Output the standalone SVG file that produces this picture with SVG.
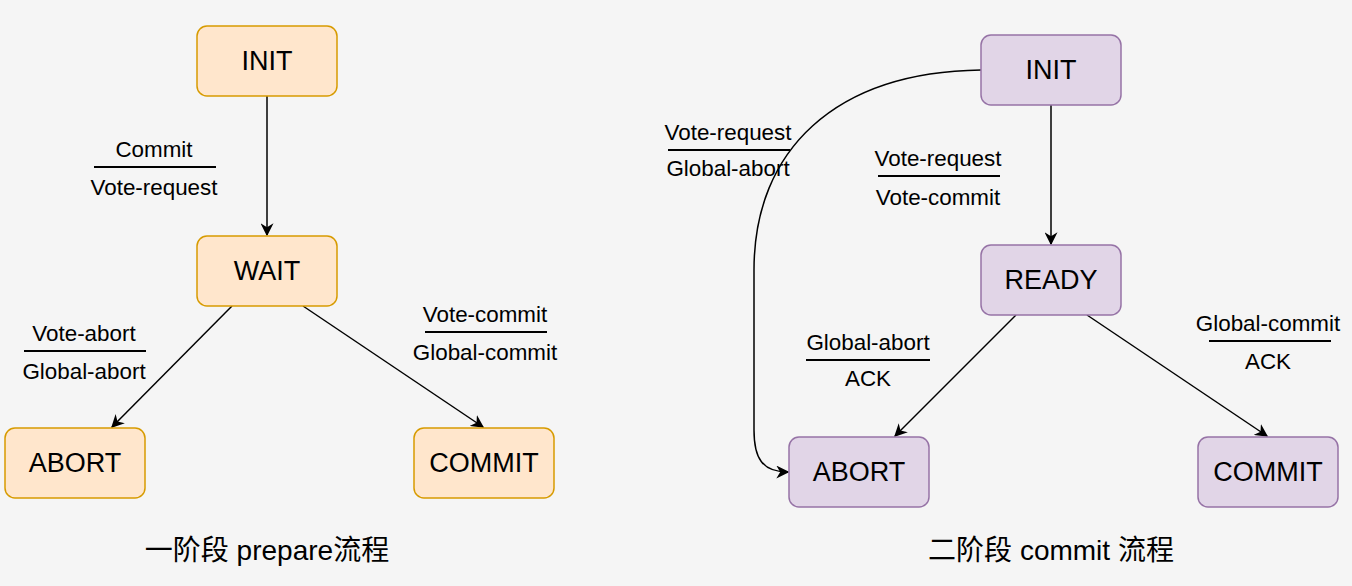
<svg xmlns="http://www.w3.org/2000/svg" width="1352" height="586" viewBox="0 0 1352 586">
<style>
.o{fill:#ffe6cc;stroke:#d79b00;stroke-width:1.5}
.p{fill:#e1d5e7;stroke:#9673a6;stroke-width:1.5}
.nt{font-family:"Liberation Sans",Arial,sans-serif;font-size:27px;fill:#000;text-anchor:middle}
.lt{font-family:"Liberation Sans",Arial,sans-serif;font-size:22.4px;fill:#000;text-anchor:middle}
.tt{font-family:"Liberation Sans","Noto Sans CJK SC",sans-serif;font-size:28px;fill:#000;text-anchor:middle}
.e{fill:none;stroke:#000;stroke-width:1.5}
.bar{stroke:#000;stroke-width:2}
</style>
<defs>
<marker id="a" viewBox="0 0 10 10" refX="9" refY="5" markerWidth="13" markerHeight="13" markerUnits="userSpaceOnUse" orient="auto">
<path d="M0,0 L10,5 L0,10 L3,5 z" fill="#000"/>
</marker>
</defs>
<rect width="1352" height="586" fill="#f5f5f5"/>
<g id="edges">
<path class="e" d="M267,96 L267,235" marker-end="url(#a)"/>
<path class="e" d="M232,306 L112,427" marker-end="url(#a)"/>
<path class="e" d="M303,306 L483,427" marker-end="url(#a)"/>
<path class="e" d="M1051,105 L1051,244" marker-end="url(#a)"/>
<path class="e" d="M1016,315 L895,436" marker-end="url(#a)"/>
<path class="e" d="M1087,315 L1267,436" marker-end="url(#a)"/>
<path class="e" d="M981,70 C835,72 754,150 754,270 L754,430 C754,458 762,472 788,472" marker-end="url(#a)"/>
</g>
<g id="l-init"><rect class="o" x="197" y="26" width="140" height="70" rx="10"/><text class="nt" x="267" y="69.5">INIT</text></g>
<g id="l-wait"><rect class="o" x="197" y="236" width="140" height="70" rx="10"/><text class="nt" x="267" y="279.5">WAIT</text></g>
<g id="l-abort"><rect class="o" x="5" y="428" width="140" height="70" rx="10"/><text class="nt" x="75" y="471.5">ABORT</text></g>
<g id="l-commit"><rect class="o" x="414" y="428" width="140" height="70" rx="10"/><text class="nt" x="484" y="471.5">COMMIT</text></g>
<g id="r-init"><rect class="p" x="981" y="35" width="140" height="70" rx="10"/><text class="nt" x="1051" y="78.5">INIT</text></g>
<g id="r-ready"><rect class="p" x="981" y="245" width="140" height="70" rx="10"/><text class="nt" x="1051" y="288.5">READY</text></g>
<g id="r-abort"><rect class="p" x="789" y="437" width="140" height="70" rx="10"/><text class="nt" x="859" y="480.5">ABORT</text></g>
<g id="r-commit"><rect class="p" x="1198" y="437" width="140" height="70" rx="10"/><text class="nt" x="1268" y="480.5">COMMIT</text></g>
<g id="labels">
<text class="lt" x="154" y="157">Commit</text><line class="bar" x1="94" y1="167" x2="216" y2="167"/><text class="lt" x="154" y="195">Vote-request</text>
<text class="lt" x="84" y="341">Vote-abort</text><line class="bar" x1="24" y1="351" x2="146" y2="351"/><text class="lt" x="84" y="379">Global-abort</text>
<text class="lt" x="485" y="322">Vote-commit</text><line class="bar" x1="425" y1="332" x2="547" y2="332"/><text class="lt" x="485" y="360">Global-commit</text>
<text class="lt" x="728" y="140">Vote-request</text><line class="bar" x1="668" y1="150" x2="790" y2="150"/><text class="lt" x="728" y="176">Global-abort</text>
<text class="lt" x="938" y="166">Vote-request</text><line class="bar" x1="878" y1="176" x2="1000" y2="176"/><text class="lt" x="938" y="205">Vote-commit</text>
<text class="lt" x="868" y="350">Global-abort</text><line class="bar" x1="806" y1="360" x2="930" y2="360"/><text class="lt" x="868" y="386">ACK</text>
<text class="lt" x="1268" y="331">Global-commit</text><line class="bar" x1="1209" y1="341" x2="1331" y2="341"/><text class="lt" x="1268" y="369">ACK</text>
</g>
<g id="titles">
<text class="tt" x="267" y="560">一阶段 prepare流程</text>
<text class="tt" x="1051" y="560">二阶段 commit 流程</text>
</g>
</svg>
